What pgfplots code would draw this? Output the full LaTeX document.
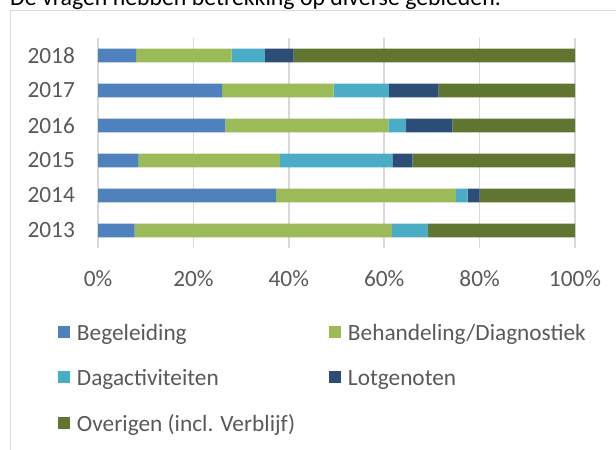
\documentclass[border=0pt]{standalone}
\usepackage{fontspec}
\setmainfont{Carlito}
\usepackage{pgfplots}
\pgfplotsset{compat=1.18}
\definecolor{cBeg}{HTML}{4F81BD}
\definecolor{cBeh}{HTML}{9BBB59}
\definecolor{cDag}{HTML}{4BACC6}
\definecolor{cLot}{HTML}{2C4D75}
\definecolor{cOve}{HTML}{607530}
\definecolor{gridgray}{HTML}{D9D9D9}
\definecolor{labelgray}{HTML}{595959}
\newcommand\cf{\fontsize{23.3bp}{28bp}\selectfont}
\pgfplotsset{sq/.style={legend image code/.code={\fill[#1,draw=none] (0bp,-6bp) rectangle (12bp,6bp);}}}
\begin{document}
\begin{tikzpicture}
\useasboundingbox (0,0) rectangle (616bp,-450bp);
\clip (0,0) rectangle (616bp,-450bp);
\draw[color=gridgray, line width=1bp] (10bp,-470bp) -- (10bp,-10bp) -- (640bp,-10bp);
\node[anchor=base west, inner sep=0pt, font=\fontsize{23.8bp}{28bp}\selectfont] at (10bp,-5.5bp) {De vragen hebben betrekking op diverse gebieden.};
\begin{axis}[
  at={(98bp,-248bp)}, anchor=south west,
  scale only axis, width=477bp, height=210bp,
  xbar stacked, bar width=13.7bp,
  xmin=0, xmax=100, ymin=-0.5, ymax=5.5,
  xtick={0,20,...,100}, ytick={0,...,5},
  yticklabels={2013,2014,2015,2016,2017,2018},
  xticklabel={\pgfmathprintnumber{\tick}\%},
  /pgf/number format/assume math mode=true,
  xmajorgrids, major grid style={draw=gridgray, line width=1.5bp},
  axis line style={draw=none}, major tick length=0pt,
  tick label style={font=\cf, text=labelgray, inner sep=0pt},
  xticklabel style={anchor=base, yshift=-38bp},
  yticklabel style={anchor=east, xshift=-23bp},
  legend columns=2, legend cell align=left,
  legend style={at={(-0.08386,-0.35905)}, anchor=north west, draw=none, fill=none,
    inner sep=0pt, outer sep=0pt, font=\cf, text=labelgray, row sep=28.9bp, column sep=0pt,
    nodes={inner sep=0pt, text height=16.6bp, text depth=0bp, text width=252bp, align=flush left},
    /tikz/every odd column/.append style={column sep=7bp}},
]
\addplot[fill=cBeg, draw=none, sq] coordinates {(7.7,0) (37.3,1) (8.5,2) (26.7,3) (26.0,4) (8.0,5)};
\addplot[fill=cBeh, draw=none, sq] coordinates {(53.9,0) (37.7,1) (29.7,2) (34.2,3) (23.4,4) (20.0,5)};
\addplot[fill=cDag, draw=none, sq] coordinates {(7.6,0) (2.5,1) (23.5,2) (3.7,3) (11.6,4) (7.0,5)};
\addplot[fill=cLot, draw=none, sq] coordinates {(0,0) (2.5,1) (4.2,2) (9.7,3) (10.4,4) (6.0,5)};
\addplot[fill=cOve, draw=none, sq] coordinates {(30.8,0) (20.0,1) (34.1,2) (25.7,3) (28.6,4) (59.0,5)};
\legend{Begeleiding, Behandeling/Diagnostiek, Dagactiviteiten, Lotgenoten, Overigen (incl. Verblijf)}
\end{axis}
\end{tikzpicture}
\end{document}
